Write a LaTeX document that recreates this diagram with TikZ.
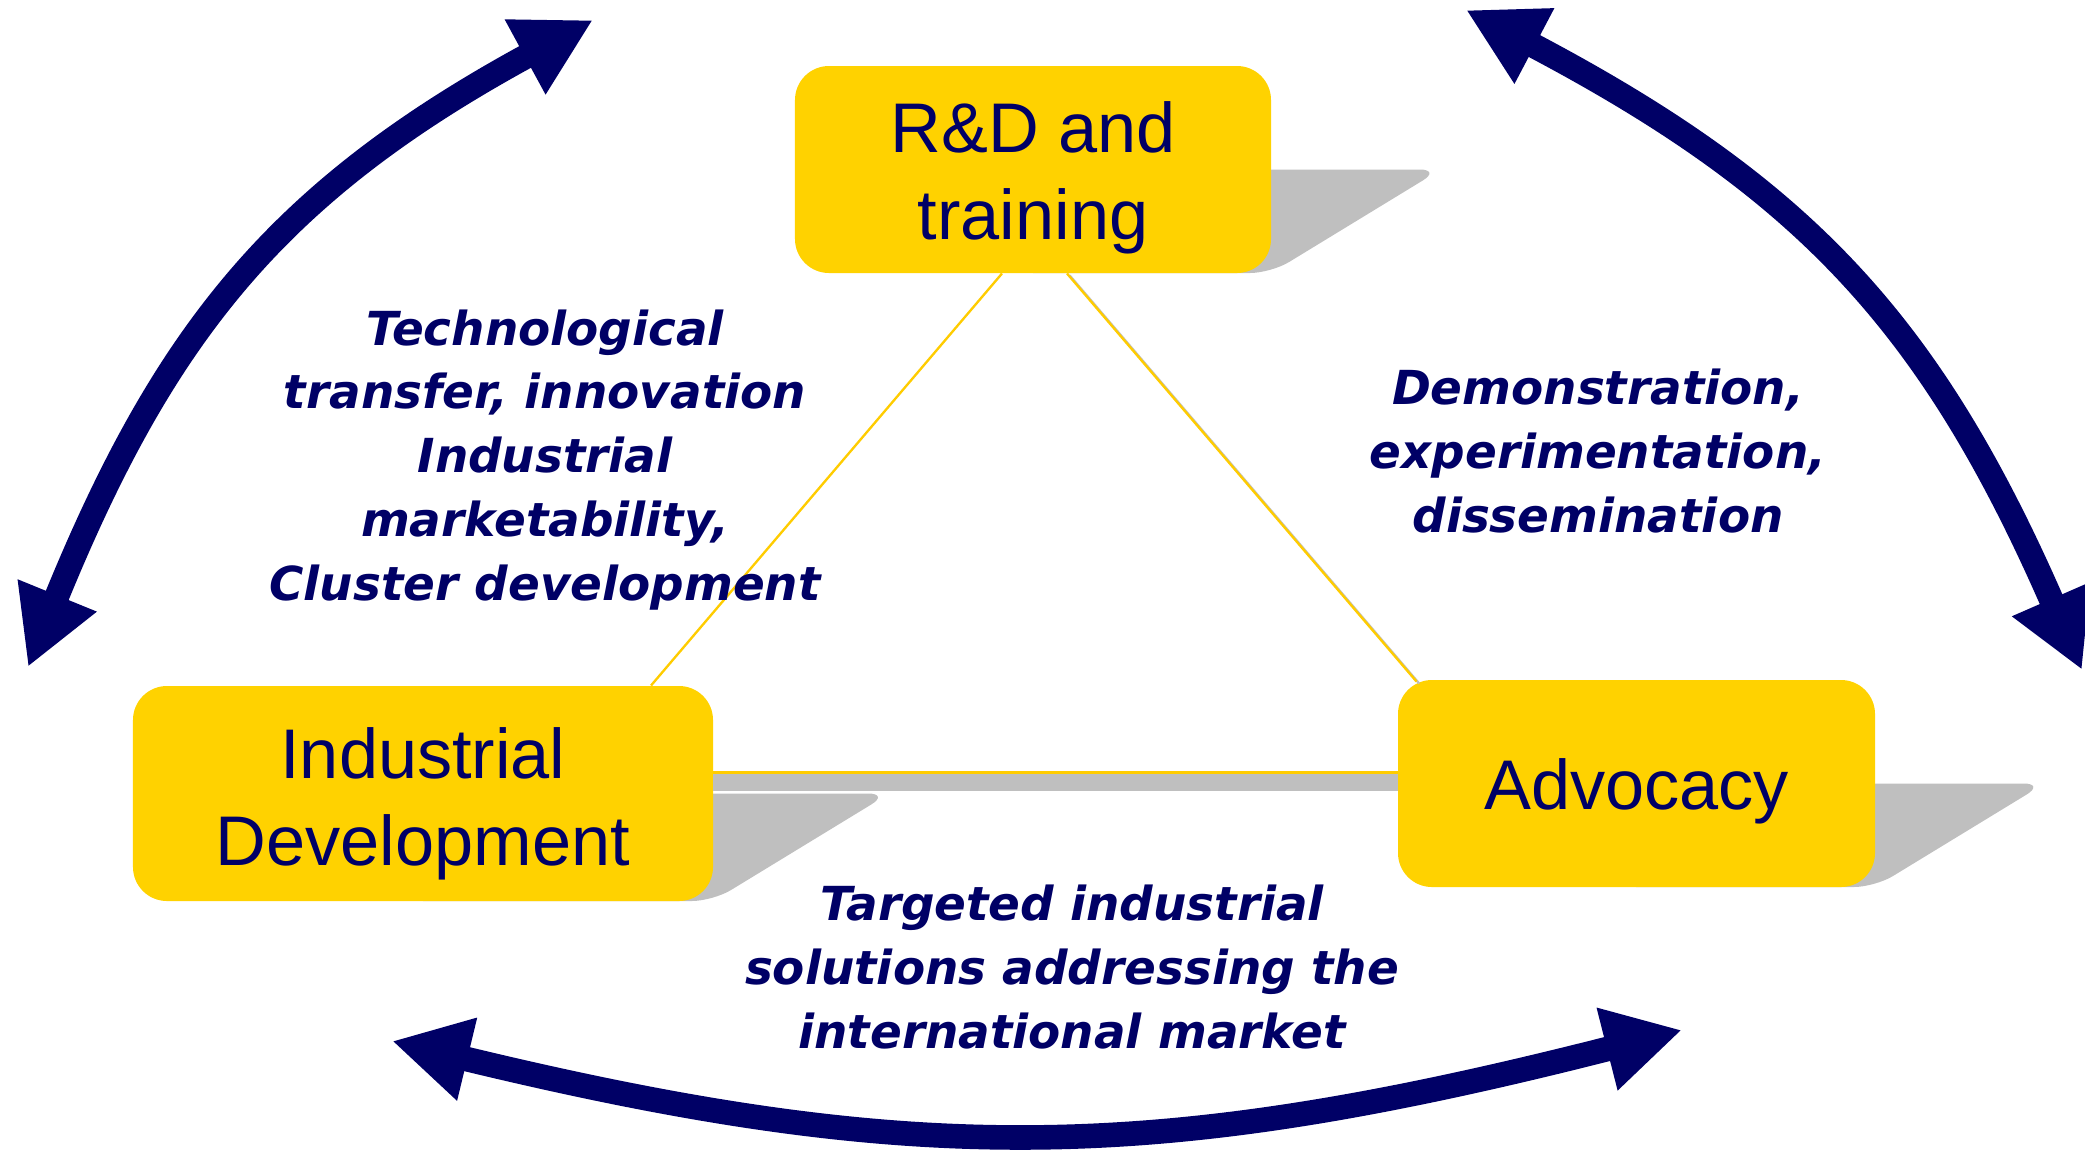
\documentclass[tikz,border=0pt]{standalone}
\usepackage{fontspec}
\usetikzlibrary{arrows.meta,calc}
\newfontfamily\boxfont{Liberation Sans}
\newfontfamily\labfont{DejaVu Sans}
\definecolor{navy}{RGB}{0,0,102}
\definecolor{boxyellow}{RGB}{255,210,0}
\definecolor{linegold}{RGB}{255,204,0}
\definecolor{shadowgray}{RGB}{191,191,191}
\newcommand\boxtext[2]{\raisebox{#1}[0pt][0pt]{\begin{tabular}{@{}c@{}}#2\end{tabular}}}
\begin{document}
\begin{tikzpicture}[x=0.015cm,y=-0.015cm,
  box/.style={fill=boxyellow, rounded corners=14.5pt, inner sep=0pt,
    text=navy, font=\boxfont\fontsize{30}{37}\selectfont},
  boxshadow/.style={fill=shadowgray, rounded corners=9pt},
  link/.style={draw=linegold, line width=1pt},
  linkshadow/.style={draw=shadowgray, line width=1pt},
  note/.style={text=navy, align=center, inner sep=0pt,
    font=\labfont\bfseries\itshape\fontsize{20}{27.3}\selectfont},
  bigarrow/.style={draw=navy, line width=10.5pt,
    {Triangle[length=33pt,width=34pt]}-{Triangle[length=33pt,width=34pt]}}
]
\useasboundingbox (0,0) rectangle (2085,1150);

% perspective shadows (only the part right of each box centre can show)
\begin{scope}
  \clip (1033,0) rectangle (2085,1150);
  \begin{scope}[cm={1,0,0.82,0.5,(223.9,136.5)}]
    \fill[boxshadow] (795,66) rectangle (1271,273);
  \end{scope}
\end{scope}
\begin{scope}
  \clip (423,0) rectangle (2085,1150);
  \begin{scope}[cm={1,0,0.82,0.5,(738.8,450.5)}]
    \fill[boxshadow] (133,686) rectangle (713,901);
  \end{scope}
\end{scope}
\begin{scope}
  \clip (1636,0) rectangle (2085,1150);
  \begin{scope}[cm={1,0,0.82,0.5,(727.3,443.5)}]
    \fill[boxshadow] (1398,680) rectangle (1875,887);
  \end{scope}
\end{scope}

% boxes
\node[box, minimum width=7.14cm, minimum height=3.105cm] (rd) at (1033,169.5) {\boxtext{-10pt}{R\&D and\\training}};
\node[box, minimum width=8.7cm, minimum height=3.225cm] (id) at (423,793.5) {\boxtext{-11pt}{Industrial\\Development}};
\node[box, minimum width=7.155cm, minimum height=3.105cm] (adv) at (1636.5,783.5) {\raisebox{-11.3pt}[0pt][0pt]{Advocacy}};

% connectors
\fill[shadowgray] ($(id.east)+(0,-19.5)$) rectangle ($(id.east -| adv.west)+(0,-2.5)$);
\draw[link] ([yshift=0.315cm]id.east) -- ([yshift=0.315cm]id.east -| adv.west);
\draw[link] ([xshift=-0.465cm]rd.south) -- ([xshift=3.42cm]id.north);
\draw[linkshadow] ([xshift=0.55cm,yshift=-0.03cm]rd.south) -- ([xshift=0.325cm,yshift=-0.06cm]adv.north west);
\draw[link] ([xshift=0.51cm]rd.south) -- ([xshift=0.285cm,yshift=-0.03cm]adv.north west);

% labels
\node[note] (lt) at (545,460) {Technological\\transfer, innovation\\Industrial\\marketability,\\Cluster development};
\node[note] (rt) at (1598,451) {Demonstration,\\experimentation,\\dissemination};
\node[note] (bt) at (1072,967) {Targeted industrial\\solutions addressing the\\international market};

% big curved arrows
\coordinate (la) at (28,667);
\coordinate (lb) at (593,20);
\coordinate (ra) at (1466,10);
\coordinate (rb) at (2082,670);
\coordinate (ba) at (392,1041);
\coordinate (bb) at (1682,1030);
\draw[bigarrow] (la) .. controls (164,334) and (277,192) .. (lb);
\draw[bigarrow] (ra) .. controls (1802,187) and (1930,322) .. (rb);
\draw[bigarrow] (ba) .. controls (917,1168) and (1159,1163) .. (bb);
\end{tikzpicture}
\end{document}
